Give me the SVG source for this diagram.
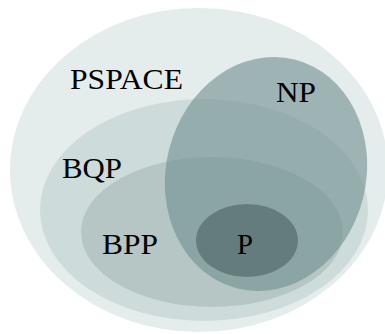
<svg xmlns="http://www.w3.org/2000/svg" width="385" height="334" viewBox="0 0 385 334">
<style>
text{font-family:'Liberation Serif','DejaVu Serif',serif;font-size:30px;fill:#000}
</style>
<rect width="385" height="334" fill="#fff"/>
<g id="pspace"><ellipse cx="199" cy="170" rx="189" ry="162" fill="#e4ecec"/><text x="70" y="89" textLength="113" lengthAdjust="spacingAndGlyphs">PSPACE</text></g>
<g id="bqp"><ellipse cx="204" cy="210" rx="164" ry="111" fill="#cddbda"/><text x="62" y="178" textLength="60" lengthAdjust="spacingAndGlyphs">BQP</text></g>
<g id="bpp"><ellipse cx="212" cy="232" rx="131" ry="75" fill="#b5c6c5"/><text x="102" y="254" textLength="56" lengthAdjust="spacingAndGlyphs">BPP</text></g>
<g id="np"><ellipse cx="266" cy="174" rx="100" ry="118" transform="rotate(14 266 174)" fill="#708f8f" fill-opacity="0.6"/><text x="276" y="102" textLength="40" lengthAdjust="spacingAndGlyphs">NP</text></g>
<g id="p"><ellipse cx="247" cy="240.5" rx="51" ry="36.5" fill="#647d7c"/><text x="237" y="254" textLength="16" lengthAdjust="spacingAndGlyphs">P</text></g>
<g id="connectors"/>
</svg>
